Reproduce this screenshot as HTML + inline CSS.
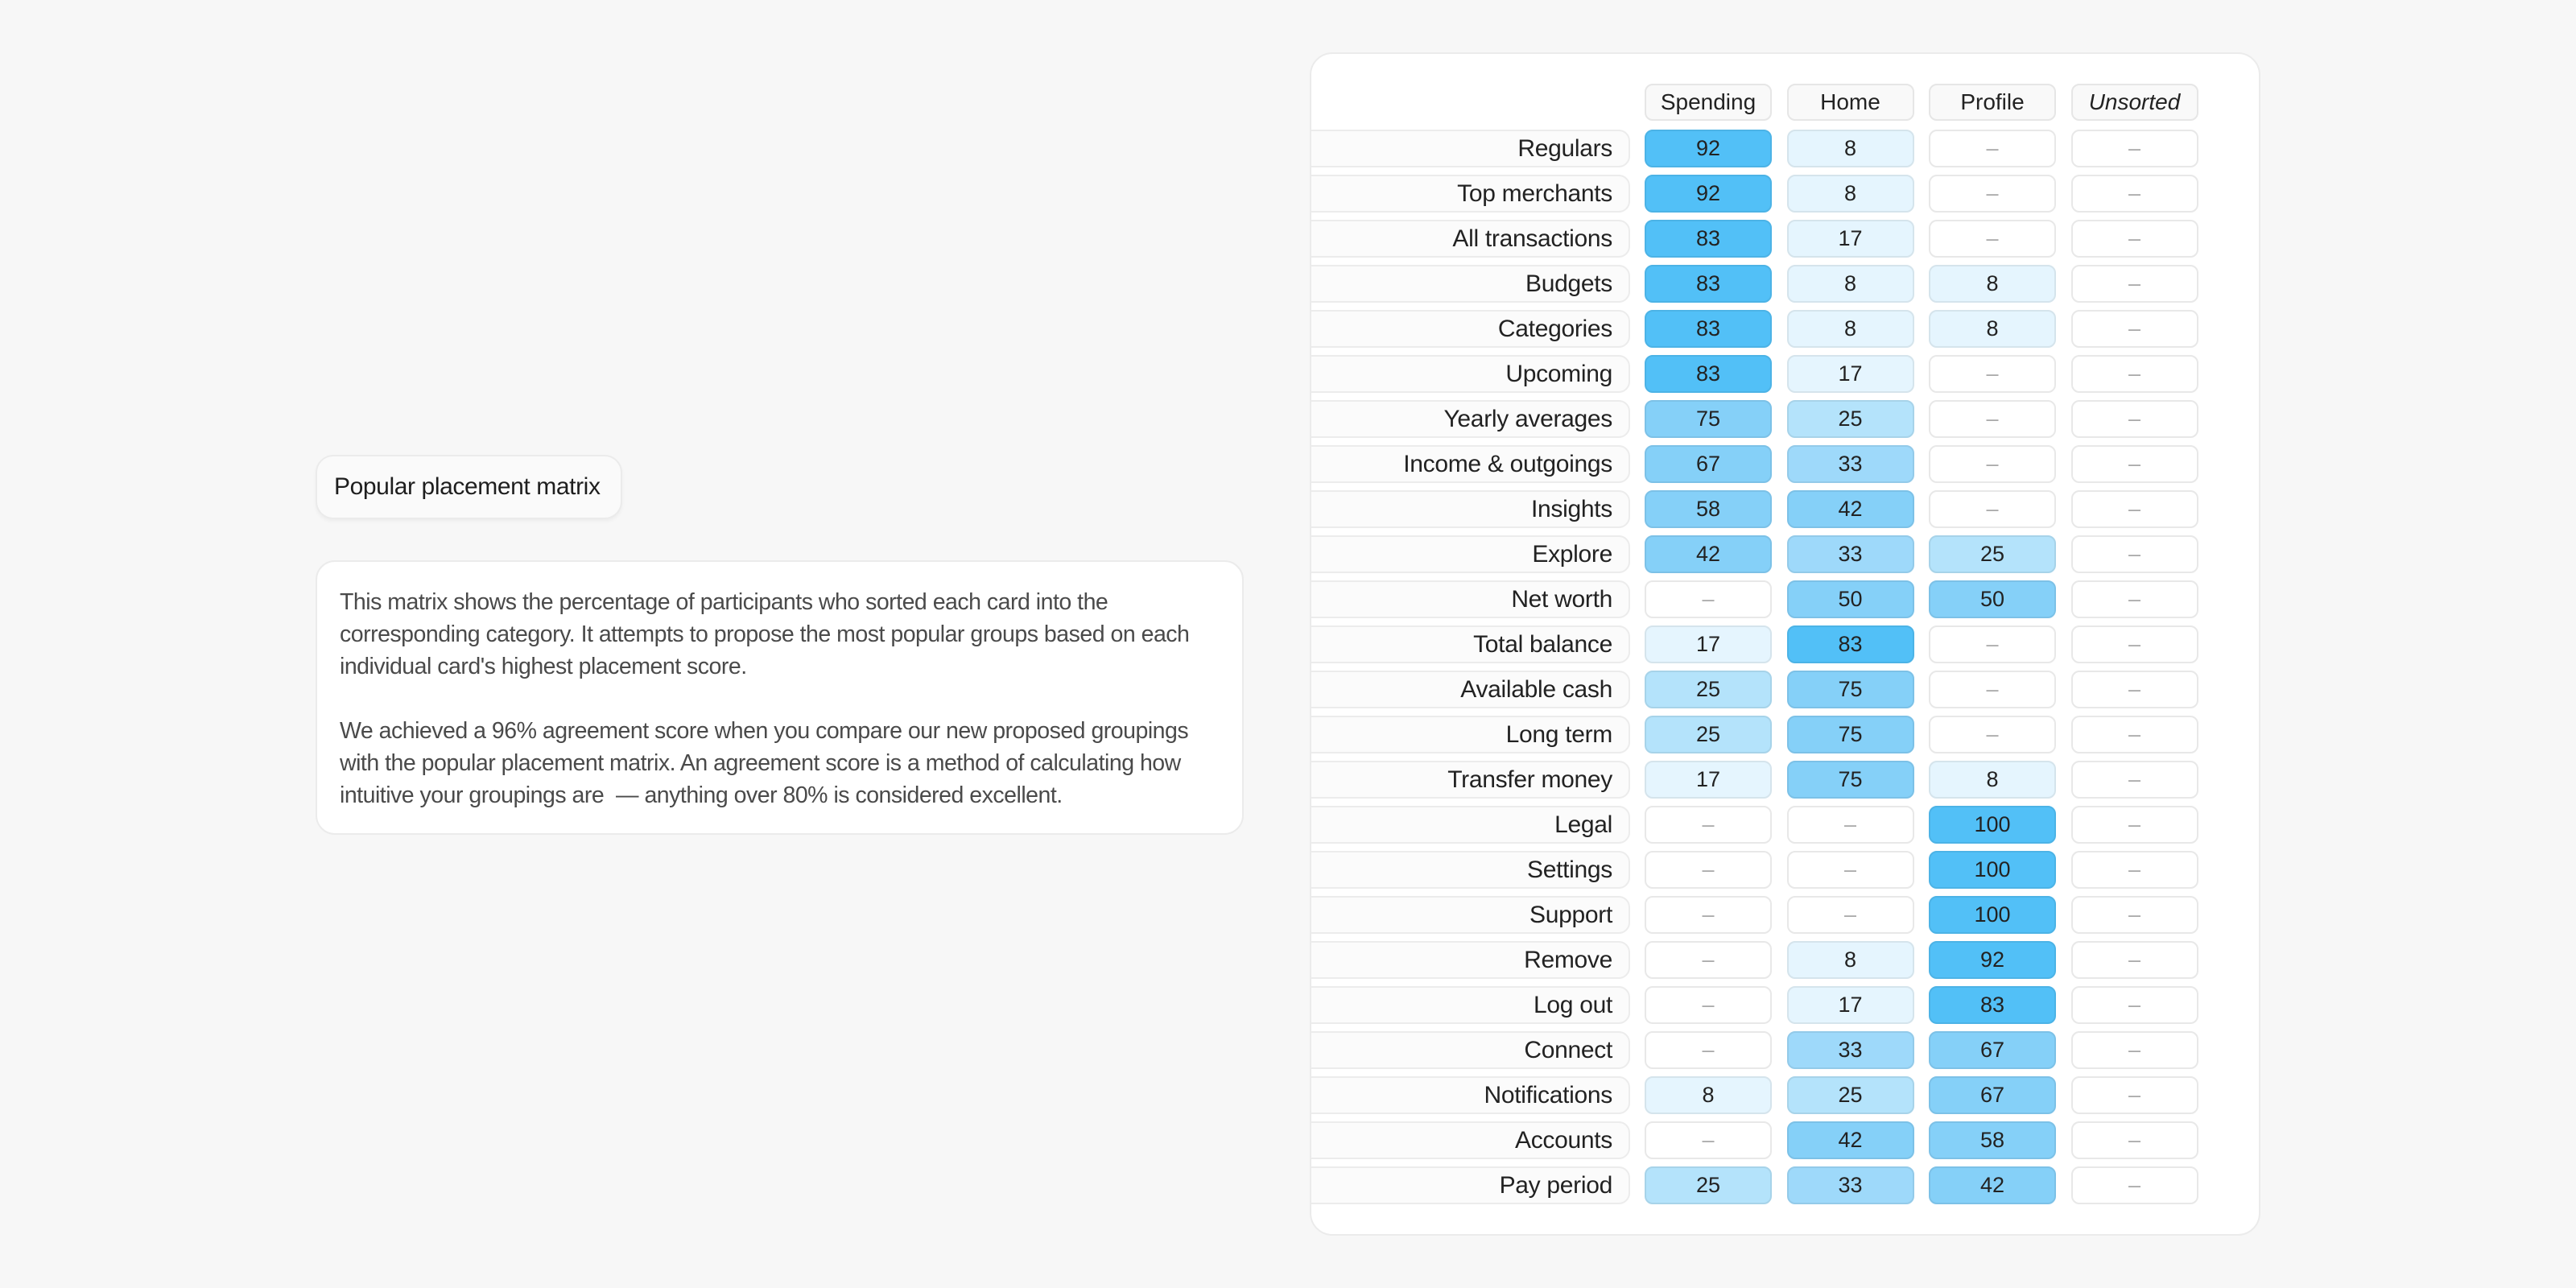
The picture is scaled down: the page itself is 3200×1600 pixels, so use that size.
<!DOCTYPE html>
<html><head><meta charset="utf-8">
<style>
html,body{margin:0;padding:0;}
body{width:3200px;height:1600px;background:#f7f7f7;position:relative;overflow:hidden;font-family:"Liberation Sans",sans-serif;color:#222;}
.abs{position:absolute;box-sizing:border-box;}
#title{left:392px;top:565px;width:381px;height:80px;background:#fafafa;border:2px solid #ebebeb;border-radius:22px;font-size:30px;line-height:76px;padding-left:21px;color:#1e1e1e;letter-spacing:-0.4px;box-shadow:0 3px 4px rgba(0,0,0,0.04);}
#desc{left:392px;top:696px;width:1153px;height:341px;background:#fff;border:2px solid #ebebeb;border-radius:24px;padding:30px 0 0 28px;font-size:28.5px;line-height:40px;color:#4a4a4a;letter-spacing:-0.5px;white-space:nowrap;}
#desc p{margin:0 0 40px 0;}
#card{left:1627px;top:65px;width:1181px;height:1470px;background:#fff;border:2px solid #ebebeb;border-radius:28px;overflow:hidden;}
.hdr{background:#f9f9f9;border:2px solid #e6e6e6;border-radius:10px;font-size:28px;text-align:center;color:#222;}
.lbl{background:#fbfbfb;border:2px solid #ececec;border-radius:14px;font-size:30px;text-align:right;color:#222;letter-spacing:-0.3px;}
.cell{border:2px solid #e8e8e8;border-radius:10px;font-size:27px;text-align:center;color:#222;}
</style></head>
<body>
<div id="title" class="abs">Popular placement matrix</div>
<div id="desc" class="abs">
<p>This matrix shows the percentage of participants who sorted each card into the<br>corresponding category. It attempts to propose the most popular groups based on each<br>individual card's highest placement score.</p>
<p>We achieved a 96% agreement score when you compare our new proposed groupings<br>with the popular placement matrix. An agreement score is a method of calculating how<br>intuitive your groupings are &nbsp;— anything over 80% is considered excellent.</p>
</div>
<div id="card" class="abs"></div>
<script>
const categories = ["Spending","Home","Profile","Unsorted"];
const rows = ["Regulars","Top merchants","All transactions","Budgets","Categories","Upcoming","Yearly averages","Income & outgoings","Insights","Explore","Net worth","Total balance","Available cash","Long term","Transfer money","Legal","Settings","Support","Remove","Log out","Connect","Notifications","Accounts","Pay period"];
const spending = [92,92,83,83,83,83,75,67,58,42,0,17,25,25,17,0,0,0,0,0,0,8,0,25];
const home     = [8,8,17,8,8,17,25,33,42,33,50,83,75,75,75,0,0,0,8,17,33,25,42,33];
const profile  = [0,0,0,8,8,0,0,0,0,25,50,0,0,0,8,100,100,100,92,83,67,67,58,42];
const unsorted = [0,0,0,0,0,0,0,0,0,0,0,0,0,0,0,0,0,0,0,0,0,0,0,0];
const series = [spending, home, profile, unsorted];

const card = document.getElementById('card');
const OX = 1627, OY = 65;
const colX = i => 2041 + i*176.5 - OX;
const rowY = i => 159 + i*56 - OY;
const CW = 158, CH = 47;

function hex(h){return [parseInt(h.slice(1,3),16),parseInt(h.slice(3,5),16),parseInt(h.slice(5,7),16)];}
const stops = [[0,"#e5f5fe"],[17,"#e5f5fe"],[25,"#b4e3fb"],[33,"#9ed9fa"],[42,"#85d0f8"],[75,"#85d0f8"],[83,"#52c0f7"],[100,"#52c0f7"]];
function color(v){
  for(let i=1;i<stops.length;i++){
    if(v<=stops[i][0]){
      const a=stops[i-1], b=stops[i];
      const t=(v-a[0])/((b[0]-a[0])||1);
      const ca=hex(a[1]), cb=hex(b[1]);
      return ca.map((c,k)=>Math.round(c+(cb[k]-c)*t));
    }
  }
  return hex("#52c0f7");
}

categories.forEach((c,i)=>{
  const d=document.createElement('div');
  d.className='abs hdr';
  
  
  d.style.left=colX(i)+'px'; d.style.top=(102-OY)+'px';
  d.style.width=CW+'px'; d.style.height='46px'; d.style.lineHeight='42px';
  if(c==='Unsorted') d.style.fontStyle='italic';
  d.textContent=c;
  card.appendChild(d);
});

rows.forEach((r,j)=>{
  const l=document.createElement('div');
  l.className='abs lbl';
  
  
  l.style.left='-30px'; l.style.top=rowY(j)+'px';
  l.style.width=(2023-OX+30)+'px'; l.style.height=CH+'px';
  l.style.lineHeight=(CH-4)+'px'; l.style.paddingRight='20px';
  l.textContent=r;
  card.appendChild(l);
  series.forEach((s,i)=>{
    const v=s[j];
    const d=document.createElement('div');
    d.className='abs cell';
    
    
    d.style.left=colX(i)+'px'; d.style.top=rowY(j)+'px';
    d.style.width=CW+'px'; d.style.height=CH+'px'; d.style.lineHeight=(CH-4)+'px';
    if(v>0){
      const c=color(v);
      d.style.background='rgb('+c.join(',')+')';
      d.style.borderColor='rgb('+c.map(x=>Math.round(x*0.93)).join(',')+')';
      d.textContent=v;
    } else {
      d.style.background='#fff';
      d.style.color='#aaa';
      d.textContent='–';
    }
    card.appendChild(d);
  });
});
</script>
</body></html>
